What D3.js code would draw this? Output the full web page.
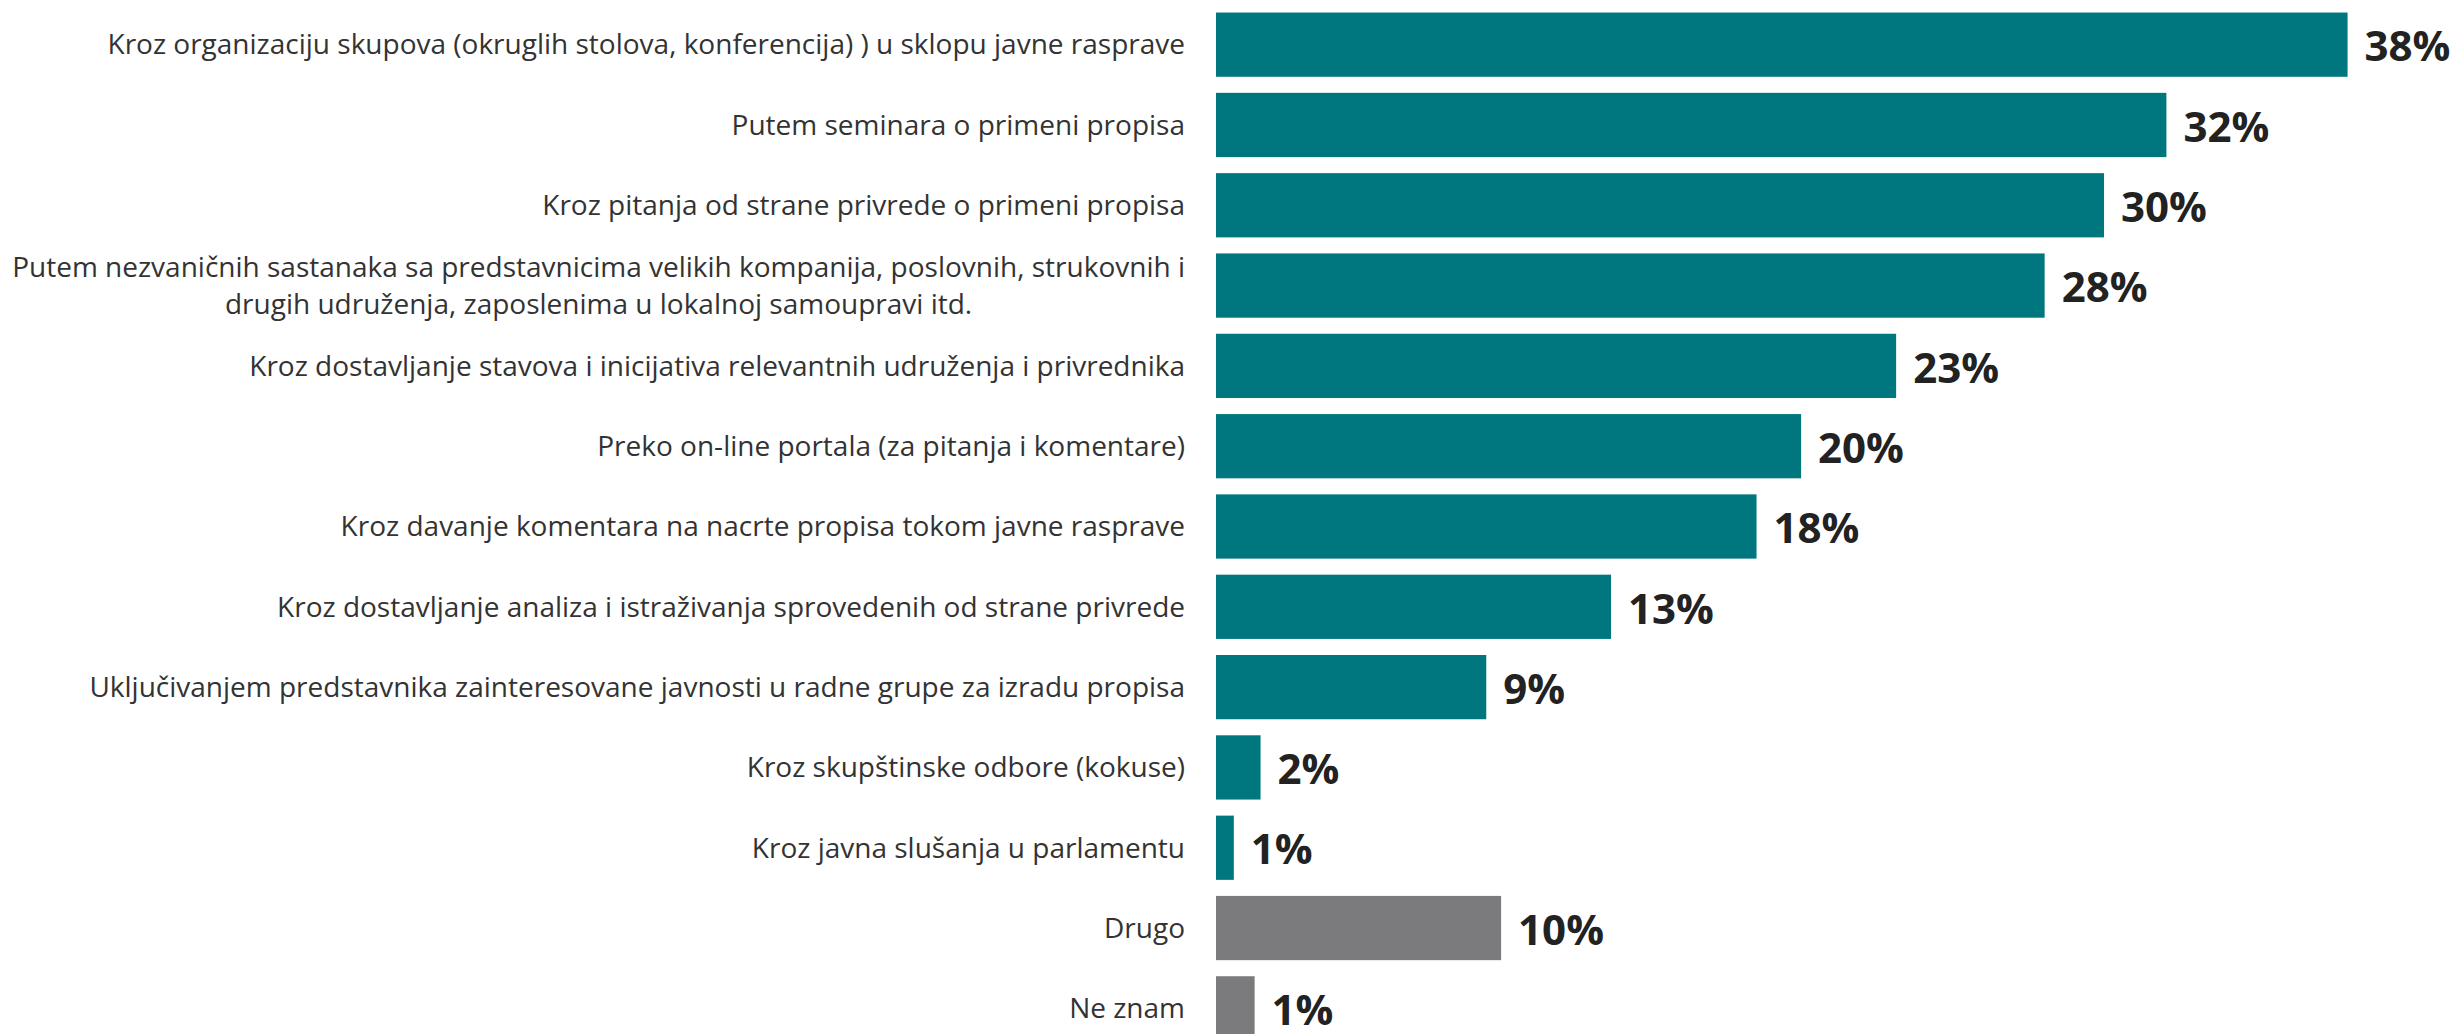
<!DOCTYPE html>
<html>
<head>
<meta charset="utf-8">
<script src="https://cdn.jsdelivr.net/npm/d3@7"></script>
<style>
  body { margin: 0; background: #fff; }
  svg { display: block; }
</style>
</head>
<body>
<div id="chart"></div>
<script>
// categories top to bottom, "\n" marks a line break in the label
var categories = [
    "Kroz organizaciju skupova (okruglih stolova, konferencija) ) u sklopu javne rasprave",
    "Putem seminara o primeni propisa",
    "Kroz pitanja od strane privrede o primeni propisa",
    "Putem nezvaničnih sastanaka sa predstavnicima velikih kompanija, poslovnih, strukovnih i\ndrugih udruženja, zaposlenima u lokalnoj samoupravi itd.",
    "Kroz dostavljanje stavova i inicijativa relevantnih udruženja i privrednika",
    "Preko on-line portala (za pitanja i komentare)",
    "Kroz davanje komentara na nacrte propisa tokom javne rasprave",
    "Kroz dostavljanje analiza i istraživanja sprovedenih od strane privrede",
    "Uključivanjem predstavnika zainteresovane javnosti u radne grupe za izradu propisa",
    "Kroz skupštinske odbore (kokuse)",
    "Kroz javna slušanja u parlamentu",
    "Drugo",
    "Ne znam"
];
var values = [38.1, 32.0, 29.9, 27.9, 22.9, 19.7, 18.2, 13.3, 9.1, 1.5, 0.6, 9.6, 1.3];
var valueLabels = ["38%", "32%", "30%", "28%", "23%", "20%", "18%", "13%", "9%", "2%", "1%", "10%", "1%"];
var groups = ["a", "a", "a", "a", "a", "a", "a", "a", "a", "a", "a", "b", "b"];

var width = 2455;
var height = 1034;

var data = categories.map(function(c, i) {
    return { cat: c, value: values[i], label: valueLabels[i], group: groups[i] };
});

var svg = d3.select("#chart").append("svg")
    .attr("width", width)
    .attr("height", height);

var x = d3.scaleLinear().domain([0, 40]).range([1216, 1216 + 40 * 29.7]);
var y = d3.scaleBand().domain(categories).range([4.5, 1048.5])
    .paddingInner(0.2).paddingOuter(0.1);
var color = d3.scaleOrdinal().domain(["a", "b"]).range(["#00767e", "#7b7b7d"]);

svg.selectAll("rect.bar")
    .data(data)
    .enter()
    .append("rect")
    .attr("class", "bar")
    .attr("x", x(0))
    .attr("y", d => y(d.cat))
    .attr("width", d => x(d.value) - x(0))
    .attr("height", y.bandwidth())
    .attr("fill", d => color(d.group));

// value labels
svg.selectAll("text.val")
    .data(data)
    .enter()
    .append("text")
    .attr("class", "val")
    .attr("x", d => x(d.value) + 17)
    .attr("y", d => y(d.cat) + y.bandwidth() / 2 + 2)
    .attr("dy", "0.35em")
    .style("font-family", "'Open Sans', sans-serif")
    .style("font-weight", "bold")
    .style("font-size", "42px")
    .style("fill", "#222")
    .text(d => d.label);

// category labels (styled before measuring, so the wrapped line centres right)
var labelX = 1185;
var lineGap = 37;
function styleLabel(t) {
    t.style("font-family", "'Open Sans', sans-serif")
        .style("font-size", "28px")
        .style("fill", "#333");
}
svg.selectAll("g.cat")
    .data(data)
    .enter()
    .append("g")
    .attr("class", "cat")
    .each(function(d) {
        var g = d3.select(this);
        var lines = d.cat.split("\n");
        var cy = y(d.cat) + y.bandwidth() / 2;
        var first = g.append("text")
            .attr("x", labelX)
            .attr("y", cy - (lines.length - 1) * lineGap / 2)
            .attr("dy", "0.35em")
            .attr("text-anchor", "end")
            .call(styleLabel)
            .text(lines[0]);
        if (lines.length > 1) {
            var w = first.node().getComputedTextLength();
            for (var k = 1; k < lines.length; k++) {
                g.append("text")
                    .attr("x", labelX - w / 2)
                    .attr("y", cy - (lines.length - 1) * lineGap / 2 + k * lineGap)
                    .attr("dy", "0.35em")
                    .attr("text-anchor", "middle")
                    .call(styleLabel)
                    .text(lines[k]);
            }
        }
    });
</script>
</body>
</html>
